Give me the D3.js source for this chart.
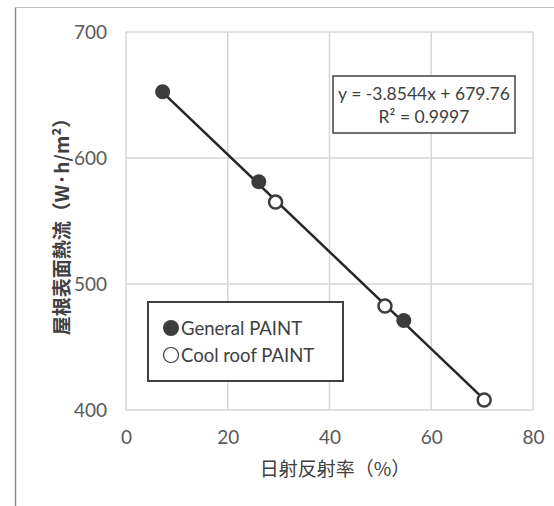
<!DOCTYPE html>
<html><head><meta charset="utf-8">
<script src="https://cdn.jsdelivr.net/npm/d3@7"></script>
<style>body{margin:0;background:#fff}</style>
</head><body>
<svg id="c" width="554" height="506"></svg>
<script>
const seriesNames = ["General PAINT", "Cool roof PAINT"];
const generalX = [7.2, 26.1, 54.6];
const generalY = [652.6, 581.2, 471.0];
const coolX = [29.4, 50.9, 70.4];
const coolY = [565.0, 482.5, 408.0];
const xTicks = [0, 20, 40, 60, 80];
const yTicks = [400, 500, 600, 700];
const slope = -3.8544, intercept = 679.76;
const eqLines = ["y = -3.8544x + 679.76", "R² = 0.9997"];
const xTitle = "日射反射率（%）";
const yTitle = "屋根表面熱流（W·h/m²）";

const svg = d3.select("#c");
const latin = "Lato, 'Liberation Sans', sans-serif";
const cjk = "'Noto Sans CJK JP', sans-serif";
const x = d3.scaleLinear().domain([0, 80]).range([126, 533]);
const y = d3.scaleLinear().domain([400, 700]).range([410, 32]);

// outer border
svg.append("line").attr("x1", 15.5).attr("x2", 15.5).attr("y1", 7.5).attr("y2", 506).attr("stroke", "#8a8a8a").attr("stroke-width", 1.5);
svg.append("line").attr("x1", 15).attr("x2", 554).attr("y1", 7.5).attr("y2", 7.5).attr("stroke", "#bdbdbd").attr("stroke-width", 1.2);

// grid
const g = svg.append("g");
g.selectAll(".vg").data(xTicks).join("line").attr("x1", d => x(d)).attr("x2", d => x(d)).attr("y1", y(700)).attr("y2", y(400)).attr("stroke", "#d6d6d6").attr("stroke-width", 1.5);
g.selectAll(".hg").data(yTicks).join("line").attr("x1", x(0)).attr("x2", x(80)).attr("y1", d => y(d)).attr("y2", d => y(d)).attr("stroke", "#d6d6d6").attr("stroke-width", 1.5);

// axes labels
const xAxis = d3.axisBottom(x).tickValues(xTicks).tickSize(0).tickPadding(21);
const xa = svg.append("g").attr("transform", `translate(0,${y(400)})`).call(xAxis);
xa.select(".domain").remove();
xa.selectAll("text").attr("font-family", latin).attr("font-size", 19).attr("fill", "#595959");
const yAxis = d3.axisLeft(y).tickValues(yTicks).tickSize(0).tickPadding(19);
const ya = svg.append("g").attr("transform", `translate(${x(0)},0)`).call(yAxis);
ya.select(".domain").remove();
ya.selectAll("text").attr("font-family", latin).attr("font-size", 19).attr("fill", "#595959");

svg.append("text").attr("x", 335).attr("y", 476).attr("text-anchor", "middle")
  .attr("font-family", cjk).attr("font-size", 19).attr("fill", "#404040").text(xTitle);
svg.append("text").attr("transform", "translate(69,222) rotate(-90)").attr("text-anchor", "middle")
  .attr("font-family", cjk).attr("font-size", 19).attr("font-weight", "bold").attr("fill", "#404040").text(yTitle);

// trendline across data range
const allX = generalX.concat(coolX);
const x0 = d3.min(allX), x1 = d3.max(allX);
svg.append("line").attr("x1", x(x0)).attr("y1", y(slope * x0 + intercept))
  .attr("x2", x(x1)).attr("y2", y(slope * x1 + intercept)).attr("stroke", "#262626").attr("stroke-width", 2.5);

// points
const gen = generalX.map((v, i) => [v, generalY[i]]);
const cool = coolX.map((v, i) => [v, coolY[i]]);
svg.selectAll(".gp").data(gen).join("circle").attr("cx", d => x(d[0])).attr("cy", d => y(d[1])).attr("r", 7.5).attr("fill", "#3c3c3c");
svg.selectAll(".cp").data(cool).join("circle").attr("cx", d => x(d[0])).attr("cy", d => y(d[1])).attr("r", 6.5).attr("fill", "#fff").attr("stroke", "#3c3c3c").attr("stroke-width", 2.5);

// equation box
svg.append("rect").attr("x", 333).attr("y", 76).attr("width", 182).attr("height", 57).attr("fill", "#fff").attr("stroke", "#404040").attr("stroke-width", 1.5);
svg.selectAll(".eq").data(eqLines).join("text").attr("x", 424).attr("y", (d, i) => 100 + i * 23).attr("text-anchor", "middle")
  .attr("font-family", latin).attr("font-size", 17.5).attr("fill", "#404040").text(d => d);

// legend
svg.append("rect").attr("x", 148).attr("y", 302).attr("width", 195).attr("height", 79).attr("fill", "#fff").attr("stroke", "#404040").attr("stroke-width", 2);
const leg = svg.selectAll(".lg").data(seriesNames).join("g").attr("transform", (d, i) => `translate(0,${328 + i * 27})`);
leg.append("circle").attr("cx", 171).attr("cy", 0).attr("r", (d, i) => i === 0 ? 8 : 7.5)
  .attr("fill", (d, i) => i === 0 ? "#3c3c3c" : "#fff").attr("stroke", (d, i) => i === 0 ? "none" : "#3c3c3c").attr("stroke-width", 1.2);
leg.append("text").attr("x", 181).attr("y", 6.5).attr("font-family", latin).attr("font-size", 18.5).attr("fill", "#404040").text(d => d);
</script>
</body></html>
